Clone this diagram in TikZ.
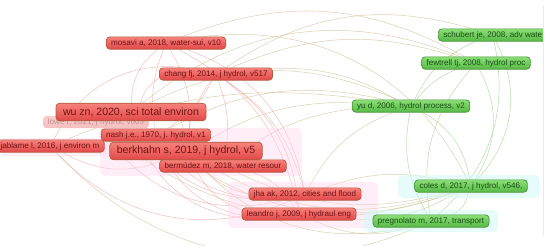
\documentclass[tikz,border=0pt]{standalone}
\usepackage{fontspec}
\setmainfont{Liberation Sans}
\usetikzlibrary{backgrounds}
\definecolor{RougeHaut}{RGB}{246,130,124}
\definecolor{RougeBas}{RGB}{226,72,72}
\definecolor{RougeBord}{RGB}{176,92,62}
\definecolor{RougeTexte}{RGB}{112,18,18}
\definecolor{VertHaut}{RGB}{140,222,120}
\definecolor{VertBas}{RGB}{86,186,70}
\definecolor{VertBord}{RGB}{72,148,52}
\definecolor{VertTexte}{RGB}{24,78,18}
\definecolor{LienRouge}{RGB}{240,150,150}
\definecolor{LienMixte}{RGB}{206,190,150}
\definecolor{LienVert}{RGB}{160,212,145}
\definecolor{Halo}{RGB}{255,212,236}
\definecolor{HaloVert}{RGB}{212,250,246}
\tikzset{refr/.style={rectangle, rounded corners=2pt,
  top color=RougeHaut, bottom color=RougeBas, draw=RougeBord, line width=0.4pt,
  text=RougeTexte, inner xsep=2.8pt, inner ysep=0pt, minimum height=7pt,
  font=\fontsize{4.6}{5}\selectfont}}
\tikzset{refrg/.style={refr, minimum height=10pt, inner xsep=4pt, font=\fontsize{6}{7}\selectfont}}
\tikzset{refv/.style={refr, top color=VertHaut, bottom color=VertBas, draw=VertBord, text=VertTexte}}
\tikzset{refpale/.style={refr, top color=RougeHaut!40, bottom color=RougeBas!35, draw=none, text=RougeTexte!45}}
\tikzset{lr/.style={draw=LienRouge, line width=0.3pt, opacity=0.6}}
\tikzset{lm/.style={draw=LienMixte, line width=0.3pt, opacity=0.7}}
\tikzset{lv/.style={draw=LienVert, line width=0.3pt, opacity=0.75}}

\begin{document}
\begin{tikzpicture}[x=0.02cm, y=-0.02cm]
\useasboundingbox (0,0) rectangle (550,245);
% references
\node[refpale] (lowe) at (96,122) {lowe r, 2021, j hydrol, v603};
\node[refr] (jablame) at (50,146) {jablame l, 2016, j environ m};
\node[refr] (nash) at (156,135) {nash j.e., 1970, j. hydrol, v1};
\node[refr] (bermudez) at (223,166) {bermúdez m, 2018, water resour};
\node[refr] (mosavi) at (166,43) {mosavi a, 2018, water-sui, v10};
\node[refr] (chang) at (216,74) {chang fj, 2014, j hydrol, v517};
\node[refrg] (wu) at (131,112) {wu zn, 2020, sci total environ};
\node[refrg] (berkhahn) at (186,151) {berkhahn s, 2019, j hydrol, v5};
\node[refr] (jha) at (305,194) {jha ak, 2012, cities and flood};
\node[refr] (leandro) at (299,214) {leandro j, 2009, j hydraul eng};
\node[refv] (yu) at (411,106) {yu d, 2006, hydrol process, v2};
\node[refv] (fewtrell) at (476,63) {fewtrell tj, 2008, hydrol proc};
\node[refv, anchor=west] (schubert) at (438,35) {schubert je, 2008, adv wate};
\node[refv] (coles) at (471,186) {coles d, 2017, j hydrol, v546,};
\node[refv] (pregnolato) at (431,221) {pregnolato m, 2017, transport};

\begin{scope}[on background layer]
% liens rouges
\draw[lr] (mosavi) to[bend right=25] (wu); \draw[lr] (mosavi) to[bend right=15] (nash);
\draw[lr] (mosavi) to[bend left=20] (berkhahn); \draw[lr] (mosavi) to[bend left=30] (jha);
\draw[lr] (mosavi) to[bend left=25] (leandro); \draw[lr] (chang) to[bend right=20] (wu);
\draw[lr] (chang) to[bend left=15] (nash); \draw[lr] (chang) to[bend right=15] (berkhahn);
\draw[lr] (chang) to[bend left=20] (jha); \draw[lr] (chang) to[bend left=25] (leandro);
\draw[lr] (chang) to[bend left=15] (bermudez); \draw[lr] (wu) to[bend right=30] (jha);
\draw[lr] (wu) to[bend right=35] (leandro); \draw[lr] (wu) to[bend left=25] (berkhahn);
\draw[lr] (nash) to[bend right=25] (jha); \draw[lr] (nash) to[bend right=30] (leandro);
\draw[lr] (berkhahn) to[bend right=20] (jha); \draw[lr] (berkhahn) to[bend right=25] (leandro);
\draw[lr] (jablame) to[bend right=35] (jha); \draw[lr] (jablame) to[bend right=25] (berkhahn);
\draw[lr] (lowe) to[bend right=30] (berkhahn); \draw[lr] (lowe) to[bend right=35] (jha);
\draw[lr] (bermudez) to[bend left=20] (leandro); \draw[lr] (jablame) to[bend left=35] (chang);
% liens mixtes
\draw[lm] (mosavi) to[bend left=35] (coles); \draw[lm] (chang) to[bend left=25] (schubert);
\draw[lm] (chang) to[bend left=20] (fewtrell); \draw[lm] (chang) to[bend left=15] (yu);
\draw[lm] (wu) to[bend left=25] (yu); \draw[lm] (wu) to[bend left=30] (fewtrell);
\draw[lm] (berkhahn) to[bend left=15] (yu); \draw[lm] (berkhahn) to[bend right=25] (coles);
\draw[lm] (berkhahn) to[bend right=30] (pregnolato); \draw[lm] (nash) to[bend right=30] (coles);
\draw[lm] (jha) to[bend left=20] (yu); \draw[lm] (jha) to[bend left=15] (coles);
\draw[lm] (leandro) to[bend right=20] (pregnolato); \draw[lm] (leandro) to[bend right=15] (coles);
\draw[lm] (bermudez) to[bend right=20] (coles); \draw[lm] (bermudez) to[bend left=15] (yu);
\draw[lm] (jablame) to[bend right=35] (pregnolato); \draw[lm] (jablame) to[bend left=15] (yu);
\draw[lm] (nash) to[bend left=20] (yu); \draw[lm] (lowe) to[bend right=30] (coles);
\draw[lm] (mosavi) to[bend left=25] (fewtrell);
% liens verts
\draw[lv] (yu) to[bend left=15] (fewtrell); \draw[lv] (yu) to[bend left=20] (schubert);
\draw[lv] (yu) to[bend left=25] (coles); \draw[lv] (yu) to[bend right=20] (pregnolato);
\draw[lv] (fewtrell) to[bend left=30] (coles); \draw[lv] (schubert) to[bend left=35] (coles);
\draw[lv] (schubert) to[bend left=30] (pregnolato); \draw[lv] (fewtrell) to[bend right=25] (pregnolato);
\draw[lv] (coles) to[bend left=25] (pregnolato);
% halos
\fill[Halo, opacity=.4, rounded corners=3pt] (100,128) rectangle (302,176);
\fill[Halo, opacity=.4, rounded corners=3pt] (0,138) rectangle (112,156);
\fill[Halo, opacity=.4, rounded corners=3pt] (228,182) rectangle (378,228);
\fill[HaloVert, opacity=.6, rounded corners=3pt] (398,175) rectangle (540,198);
\fill[HaloVert, opacity=.6, rounded corners=3pt] (364,210) rectangle (498,232);
\end{scope}
% bord droit
\fill[white] (543,0) rectangle (550,245);
\draw[black!8, line width=0.4pt] (543,5) -- (543,236);
\end{tikzpicture}
\end{document}
